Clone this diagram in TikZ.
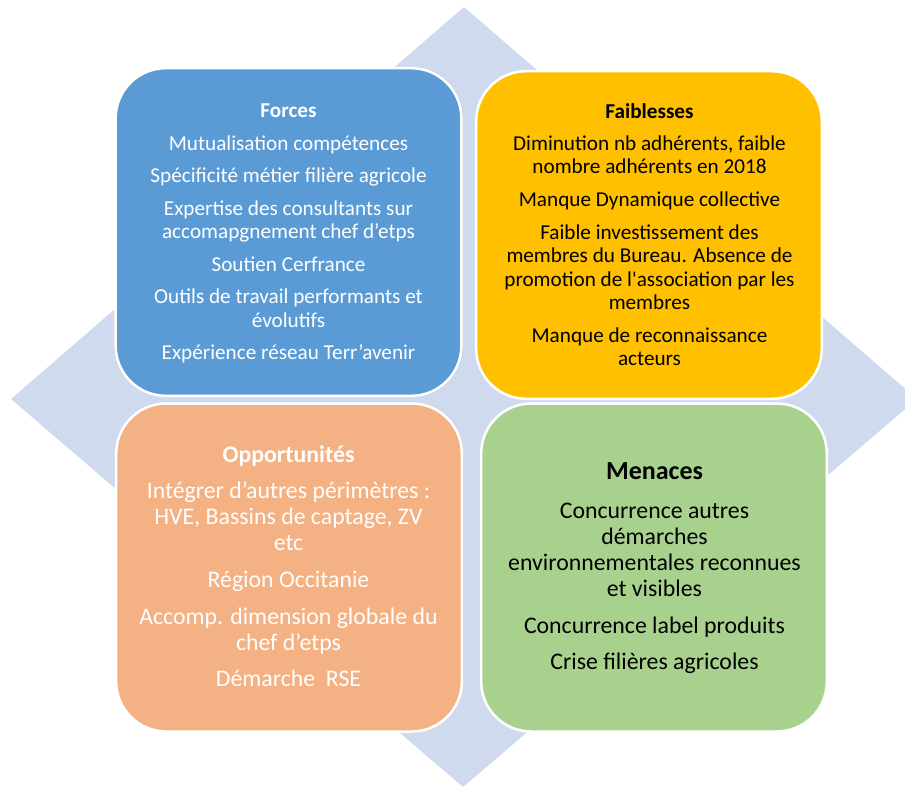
\documentclass[tikz,border=0pt]{standalone}
\usepackage{fontspec}
\setmainfont{Carlito}[Ligatures=TeXOff]
\definecolor{diam}{HTML}{CFDAEE}
\definecolor{cforces}{HTML}{5B9BD5}
\definecolor{cfaib}{HTML}{FFC000}
\definecolor{copp}{HTML}{F4B183}
\definecolor{cmen}{HTML}{A9D18E}
\tikzset{
  swotbox/.style={draw=white, line width=2.5pt, rounded corners=50pt, inner sep=0pt, minimum width=345.6pt, minimum height=328pt},
  titletext/.style={anchor=base, inner sep=0pt, font=\bfseries},
  bodysmall/.style={anchor=north, inner sep=0pt, align=center, font=\fontsize{21.2}{23.5}\selectfont},
  bodylarge/.style={anchor=north, inner sep=0pt, align=center, font=\fontsize{23.8}{26.2}\selectfont}
}
\begin{document}
\begin{tikzpicture}[x=1pt, y=-1pt]
\useasboundingbox (0,0) rectangle (905,788);
\begin{scope}
\clip (0,0) rectangle (905,788);
\fill[diam] (464,7) -- (917,399) -- (463,787) -- (11,399) -- cycle;
\end{scope}
% boxes
\node[swotbox, fill=cforces, minimum height=327.6pt] (forces) at (288.5,232) {};
\node[swotbox, fill=cfaib, minimum height=327.6pt] (faib) at (649,235) {};
\node[swotbox, fill=copp] (opp) at (289,567.5) {};
\node[swotbox, fill=cmen] (men) at (654,567.5) {};
% titles
\node[titletext, text=white, font=\fontsize{21.2}{23.5}\selectfont\bfseries] (forcesT) at (288.5,117) {Forces};
\node[titletext, text=black, font=\fontsize{21.2}{23.5}\selectfont\bfseries] (faibT) at (649.5,118) {Faiblesses};
\node[titletext, text=white, font=\fontsize{23.8}{26}\selectfont\bfseries] (oppT) at (288.5,462) {Opportunités};
\node[titletext, text=black, font=\fontsize{26}{28}\selectfont\bfseries] (menT) at (654.5,479) {Menaces};
% bodies
\node[bodysmall, text=white] (forcesB) at (288.5,133.55) {\strut Mutualisation compétences\\[9pt]
Spécificité métier filière agricole\\[9pt]
Expertise des consultants sur\\
accomapgnement chef d’etps\\[9pt]
Soutien Cerfrance\\[9pt]
Outils de travail performants et\\
évolutifs\\[9pt]
Expérience réseau Terr’avenir};
\node[bodysmall, text=black] (faibB) at (649.5,133.55) {\strut Diminution nb adhérents, faible\\
nombre adhérents en 2018\\[9.2pt]
Manque Dynamique collective\\[9.2pt]
Faible investissement des\\
membres du Bureau. Absence de\\
promotion de l'association par les\\
membres\\[9.2pt]
Manque de reconnaissance\\
acteurs};
\node[bodylarge, text=white] (oppB) at (288.5,479.7) {\strut Intégrer d’autres périmètres :\\
HVE, Bassins de captage, ZV\\
etc\\[10.5pt]
Région Occitanie\\[10.5pt]
Accomp. dimension globale du\\
chef d’etps\\[10.5pt]
Démarche\ \ RSE};
\node[bodylarge, text=black] (menB) at (654.5,499.7) {\strut Concurrence autres\\
démarches\\
environnementales reconnues\\
et visibles\\[10.3pt]
Concurrence label produits\\[10.3pt]
Crise filières agricoles};
\end{tikzpicture}
\end{document}
